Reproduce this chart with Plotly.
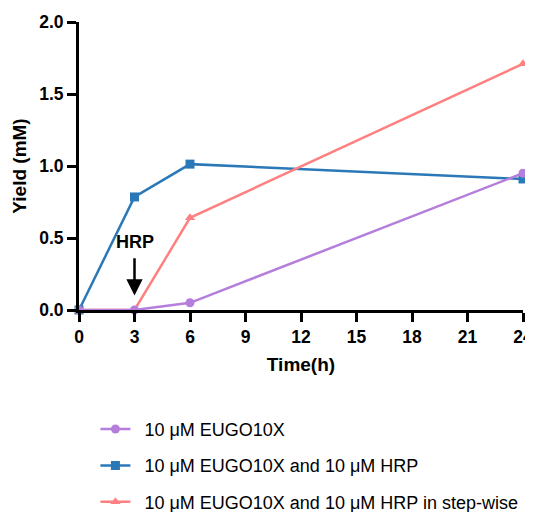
import plotly.graph_objects as go

time_h = [0, 3, 6, 24]
eugo = [0.0, 0.0, 0.05, 0.95]
eugo_hrp = [0.0, 0.785, 1.013, 0.91]
eugo_hrp_step = [0.0, 0.0, 0.64, 1.71]

names = ["10 \u03bcM EUGO10X",
         "10 \u03bcM EUGO10X and 10 \u03bcM HRP",
         "10 \u03bcM EUGO10X and 10 \u03bcM HRP in step-wise"]
colors = ["#B57EDC", "#2A78B8", "#FF8080"]
symbols = ["circle", "square", "triangle-up"]

x_ticks = [0, 3, 6, 9, 12, 15, 18, 21, 24]
y_ticks = [0.0, 0.5, 1.0, 1.5, 2.0]

FONT = "Liberation Sans, Arial"

fig = go.Figure()
series = [eugo, eugo_hrp, eugo_hrp_step]
order = [1, 2, 0]  # draw purple last
for i in order:
    fig.add_trace(go.Scatter(
        x=time_h, y=series[i], name="\u2002" + names[i], mode="lines+markers",
        line=dict(color=colors[i], width=2.5),
        marker=dict(symbol=symbols[i], size=9, color=colors[i]),
        legendgroup=str(i), legendrank=i + 1, cliponaxis=False))

fig.add_annotation(x=3, y=0.1, ax=3, ay=0.37, xref="x", yref="y",
                   axref="x", ayref="y", showarrow=True, arrowhead=2,
                   arrowsize=1.3, arrowwidth=2.5, arrowcolor="black", text="")
fig.add_annotation(x=3, y=0.47, xref="x", yref="y", text="<b>HRP</b>",
                   showarrow=False, font=dict(size=18, color="black", family=FONT))

axis_common = dict(showline=True, linecolor="black", linewidth=3,
                   ticks="outside", ticklen=9, tickwidth=3, tickcolor="black",
                   showgrid=False, zeroline=False, automargin=False,
                   tickfont=dict(size=17.5, color="black", family=FONT, weight="bold"))

fig.update_layout(
    width=525, height=504,
    margin=dict(l=71, r=10, t=14, b=202, autoexpand=False),
    plot_bgcolor="white", paper_bgcolor="white",
    font=dict(family=FONT, color="black"),
    xaxis=dict(range=[0, 24], tickvals=x_ticks, ticktext=[str(t) for t in x_ticks],
               title=dict(text="<b>Time(h)</b>", font=dict(size=19), standoff=12),
               **axis_common),
    yaxis=dict(range=[0, 2.0], tickvals=y_ticks, ticktext=["%.1f" % v for v in y_ticks],
               title=dict(text="<b>Yield (mM)</b>", font=dict(size=19), standoff=8),
               **axis_common),
    legend=dict(x=0.037, y=-0.35, xanchor="left", yanchor="top",
                font=dict(size=18, color="black"), tracegroupgap=10,
                traceorder="grouped", bgcolor="rgba(0,0,0,0)"),
)

fig.write_html("out.html")
